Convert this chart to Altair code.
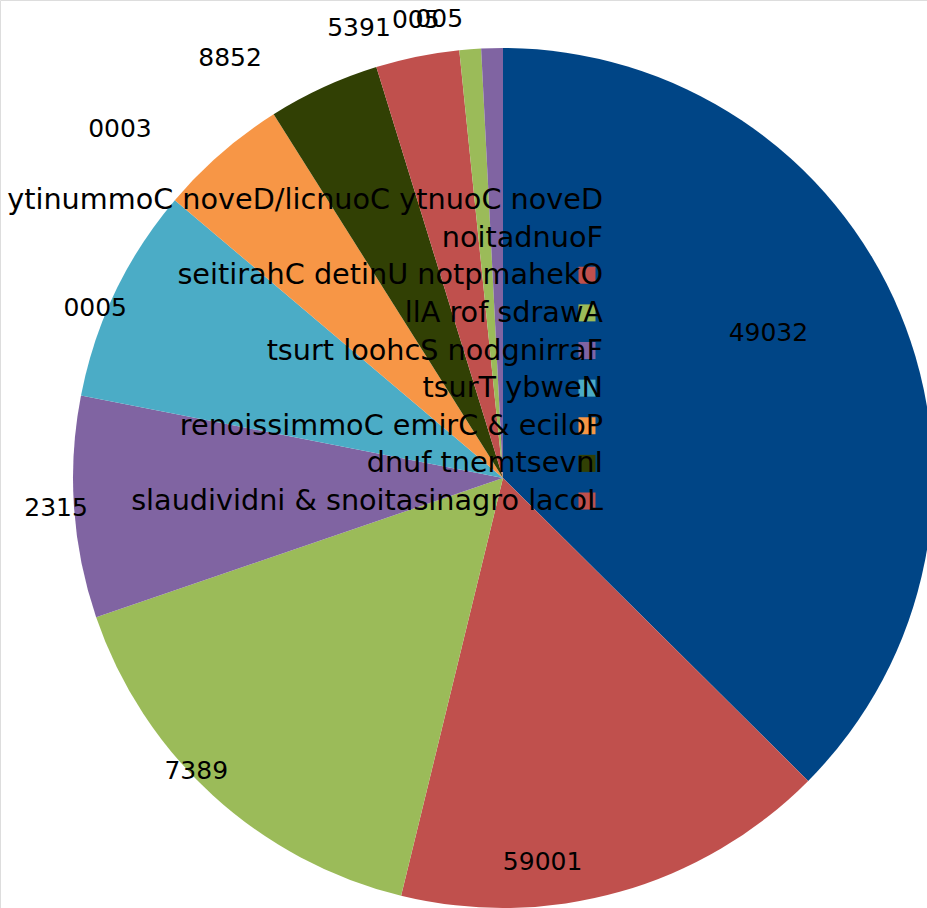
import altair as alt
import pandas as pd

# Funding amounts per slice, clockwise from 12 o'clock
amounts = [23094, 10095, 9837, 5132, 5000, 3000, 2588, 1935, 500, 500]
slice_colors = ["#004586", "#c0504d", "#9bbb59", "#8064a2", "#4bacc6",
                "#f79646", "#314004", "#c0504d", "#9bbb59", "#8064a2"]

# Legend entries (wrapped lines) and the slice each one belongs to
legend_lines = [
    "Devon County Council/Devon Community",
    "Foundation",
    "Okehampton United Charities",
    "Awards for All",
    "Farringdon School trust",
    "Newby Trust",
    "Police & Crime Commissioner",
    "Investment fund",
    "Local organisations & individuals",
]
legend_slice = [0, 0, 1, 2, 3, 4, 5, 6, 7]
legend_symbol = [True, False, True, True, True, True, True, True, True]

keys = [f"s{i}" for i in range(len(amounts))]

slices = pd.DataFrame({
    "key": keys,
    "idx": list(range(len(amounts))),
    "amount": amounts,
    # text is rendered right-to-left, character order reversed
    "label": [str(v)[::-1] for v in amounts],
})

legend = pd.DataFrame({
    "line": list(range(len(legend_lines))),
    "text": [t[::-1] for t in legend_lines],
    "key": [keys[i] for i in legend_slice],
    "symbol": legend_symbol,
})

CX, CY, R = 503, 478, 430
FONT = "DejaVu Sans"

color = alt.Color("key:N", scale=alt.Scale(domain=keys, range=slice_colors), legend=None)
theta = alt.Theta("amount:Q", stack=True)
order = alt.Order("idx:Q", sort="ascending")

base = alt.Chart(slices)

pie = base.mark_arc(radius=R).encode(
    theta=theta, color=color, order=order,
    x=alt.value(CX), y=alt.value(CY),
)

# mid-angle (radians) of every slice, computed over the full set of slices
mids = base.transform_joinaggregate(
    total="sum(amount)"
).transform_window(
    cum="sum(amount)", sort=[alt.SortField("idx", order="ascending")]
).transform_calculate(
    mid="(datum.cum - datum.amount / 2) / datum.total * 2 * PI"
)


def slice_labels(cond, radius, dx=0, dy=0):
    return mids.transform_filter(cond).mark_text(
        radius=radius, dx=dx, dy=dy, font=FONT, fontSize=25, color="black",
        align="center", baseline="middle",
    ).encode(
        theta=alt.Theta("mid:Q", scale=None), text="label:N",
        x=alt.value(CX), y=alt.value(CY),
    )


label_layers = [
    slice_labels("datum.idx == 0", 320, dx=-30, dy=-22),
    slice_labels("datum.idx == 1", 389, dx=-66, dy=10),
    slice_labels("datum.idx == 2", 440, dx=-10, dy=-32),
    slice_labels("datum.idx == 3", 448),
    slice_labels("datum.idx == 4", 448, dx=-4, dy=24),
    slice_labels("datum.idx >= 5 && datum.idx < 7", 462, dx=-80),
    slice_labels("datum.idx >= 7", 462, dx=-52, dy=3),
]

ypos = alt.Y("line:O", axis=None,
             scale=alt.Scale(type="point", range=[200, 501], padding=0))

leg = alt.Chart(legend)
leg_symbols = leg.transform_filter("datum.symbol").mark_square(
    size=289, opacity=1, filled=True
).encode(
    x=alt.value(587), y=ypos,
    color=alt.Color("key:N", scale=alt.Scale(domain=keys, range=slice_colors), legend=None),
)
leg_text = leg.mark_text(
    font=FONT, fontSize=28.7, color="black", align="right", baseline="middle"
).encode(
    x=alt.value(603), y=ypos, text="text:N",
)

chart = alt.layer(
    pie, *label_layers, leg_symbols, leg_text
).properties(
    width=927, height=908, padding=0,
    autosize=alt.AutoSizeParams(type="none"),
).configure_view(stroke=None).configure(background="white")

chart.save("out.html", embed_options={"renderer": "svg", "actions": False})
